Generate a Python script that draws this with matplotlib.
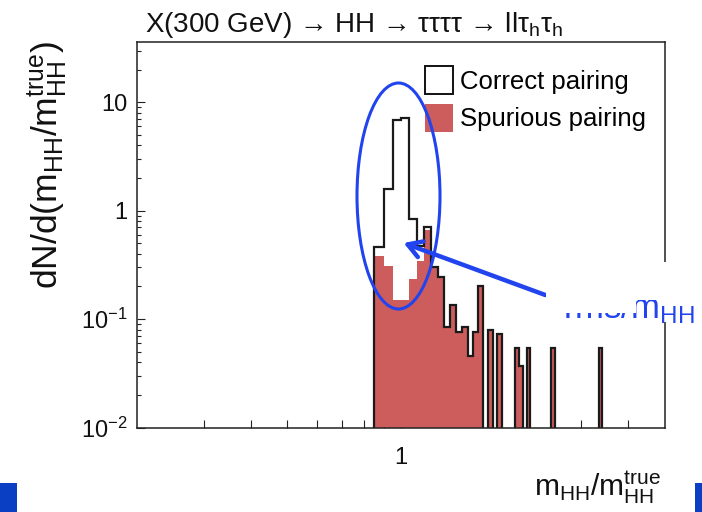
import matplotlib
matplotlib.use("Agg")
import numpy as np
import matplotlib.pyplot as plt
from matplotlib.patches import Ellipse, Rectangle, FancyArrowPatch, Patch
from matplotlib.ticker import FixedLocator, FixedFormatter, NullFormatter

plt.rcParams["font.family"] = ["Liberation Sans", "DejaVu Sans"]
plt.rcParams["mathtext.fontset"] = "custom"
plt.rcParams["mathtext.rm"] = "Liberation Sans"
plt.rcParams["mathtext.it"] = "Liberation Sans:italic"
plt.rcParams["mathtext.bf"] = "Liberation Sans:bold"
plt.rcParams["mathtext.sf"] = "Liberation Sans"

# ---- histogram content: m_HH / m_HH^true, 0.05-wide bins from 0.85 to 3.40 ----
bin_start = 0.85
bin_width = 0.05
spurious = [
    0.385, 0.31, 0.15, 0.15, 0.235, 0.346, 0.66, 0.30, 0.244, 0.084,
    0.134, 0.0757, 0.084, 0.0452, 0.0757, 0.204, 0.0, 0.0785, 0.0, 0.0731,
    0.0, 0.0, 0.0, 0.054, 0.037, 0.0, 0.054, 0.0, 0.0, 0.0,
    0.0, 0.0, 0.0, 0.054, 0.0, 0.0, 0.0, 0.0, 0.0, 0.0,
    0.0, 0.0, 0.0, 0.0, 0.0, 0.0, 0.0, 0.0, 0.0, 0.0,
    0.054,
]
correct = [
    0.075, 1.27, 6.70, 6.95, 0.605, 0.124, 0.05, 0.0, 0.0, 0.0,
] + [0.0] * 41

legend_labels = ["Correct pairing", "Spurious pairing"]
y_ticks = [0.01, 0.1, 1, 10]
y_tick_labels = [r"$10^{-2}$", r"$10^{-1}$", "1", "10"]
x_major = [1]
x_minor = [0.3, 0.4, 0.5, 0.6, 0.7, 0.8, 0.9, 2, 3, 4]

spurious = np.array(spurious)
correct = np.array(correct)
total = spurious + correct
edges = np.round(bin_start + bin_width * np.arange(len(spurious) + 1), 2)

RED = "#cd5c5c"
BLUE = "#2244ee"

W, H = 702, 512
fig = plt.figure(figsize=(W / 100, H / 100), dpi=100)


def fx(px):
    return px / W


def fy(py):
    return 1 - py / H


ax = fig.add_axes([fx(137), fy(427.5), fx(665) - fx(137), fy(42) - fy(427.5)])
ax.set_xscale("log")
ax.set_yscale("log")
ax.set_xlim(0.2, 5.0)
ax.set_ylim(0.01, 36)

# spurious pairing (filled), correct pairing stacked on top (outline of the sum)
ax.bar(edges[:-1], spurious, width=np.diff(edges), align="edge", bottom=1e-4,
       color=RED, edgecolor="none", zorder=2)
ax.stairs(np.where(total > 0, total, 1e-4), edges, baseline=1e-4,
          color="#1a1a1a", lw=1.6, zorder=3)

for side in ax.spines.values():
    side.set_linewidth(1.1)
    side.set_color("#222222")
    side.set_zorder(5)

ax.yaxis.set_major_locator(FixedLocator(y_ticks))
ax.yaxis.set_major_formatter(FixedFormatter(y_tick_labels))
ax.xaxis.set_major_locator(FixedLocator(x_major))
ax.xaxis.set_major_formatter(FixedFormatter(["1"]))
ax.xaxis.set_minor_locator(FixedLocator(x_minor))
ax.xaxis.set_minor_formatter(NullFormatter())
ax.yaxis.set_minor_formatter(NullFormatter())
ax.tick_params(axis="both", which="both", direction="in", colors="#222222",
               width=0.8, labelsize=17, labelcolor="#111111")
ax.tick_params(axis="x", which="major", length=11, pad=14)
ax.tick_params(axis="x", which="minor", length=5.8)
ax.tick_params(axis="y", which="major", length=5.8, pad=7)
ax.tick_params(axis="y", which="minor", length=3)

# legend
handles = [Patch(facecolor="white", edgecolor="#111111", lw=1.4),
           Patch(facecolor=RED, edgecolor="none")]
ax.legend(handles, legend_labels, loc="upper left",
          bbox_to_anchor=(fx(425), fy(66)), bbox_transform=fig.transFigure,
          frameon=False, fontsize=18.5, handlelength=1.09, handleheight=1.30,
          handletextpad=0.28, labelspacing=0.37, borderpad=0.0, borderaxespad=0.0)

# titles
fig.text(fx(145), fy(32), "X(300 GeV) \u2192 HH \u2192 \u03c4\u03c4\u03c4\u03c4 \u2192 ll\u03c4$_\\mathrm{h}$\u03c4$_\\mathrm{h}$",
         fontsize=20, color="#111111", ha="left", va="baseline")
fig.text(fx(48), fy(41), r"dN/d(m$_\mathrm{HH}$/m$_\mathrm{HH}^\mathrm{true}$)",
         rotation=90, fontsize=25.5, color="#111111", ha="center", va="top")
fig.text(fx(661), fy(506), r"m$_\mathrm{HH}$/m$_\mathrm{HH}^\mathrm{true}$",
         fontsize=21.5, color="#111111", ha="right", va="bottom")

# annotation: ellipse around the peak and arrow to the rms label
fig.patches.append(Ellipse((fx(398.5), fy(196)), fx(83), 226 / H, angle=0,
                           transform=fig.transFigure, fill=False,
                           edgecolor=BLUE, lw=2.2, zorder=10))
fig.patches.append(FancyArrowPatch((548, H - 296), (401, H - 242),
                                   transform=None, arrowstyle="->,head_length=10,head_width=6",
                                   color=BLUE, lw=3.2, mutation_scale=1, zorder=10))
fig.patches.append(Rectangle((fx(546), fy(322)), fx(156), fy(262) - fy(322),
                             transform=fig.transFigure, facecolor="white",
                             edgecolor="none", zorder=11))
fig.text(fx(563), fy(318), r"rms/m$_\mathrm{HH}$", fontsize=25, color=BLUE,
         ha="left", va="baseline", zorder=12)
# overlapping white panel hides the upper part of the label
fig.patches.append(Rectangle((fx(546), fy(313)), fx(90), fy(262) - fy(313),
                             transform=fig.transFigure, facecolor="white",
                             edgecolor="none", zorder=13))
fig.patches.append(Rectangle((fx(636), fy(300)), fx(66), fy(262) - fy(300),
                             transform=fig.transFigure, facecolor="white",
                             edgecolor="none", zorder=13))

# slide decoration at the bottom corners
fig.patches.append(Rectangle((0, 0), fx(17), fy(483), transform=fig.transFigure,
                             facecolor="#0a3fc4", edgecolor="none", zorder=1))
fig.patches.append(Rectangle((fx(695), 0), fx(7), fy(483), transform=fig.transFigure,
                             facecolor="#0a3fc4", edgecolor="none", zorder=1))

fig.savefig("out.png", dpi=100)
